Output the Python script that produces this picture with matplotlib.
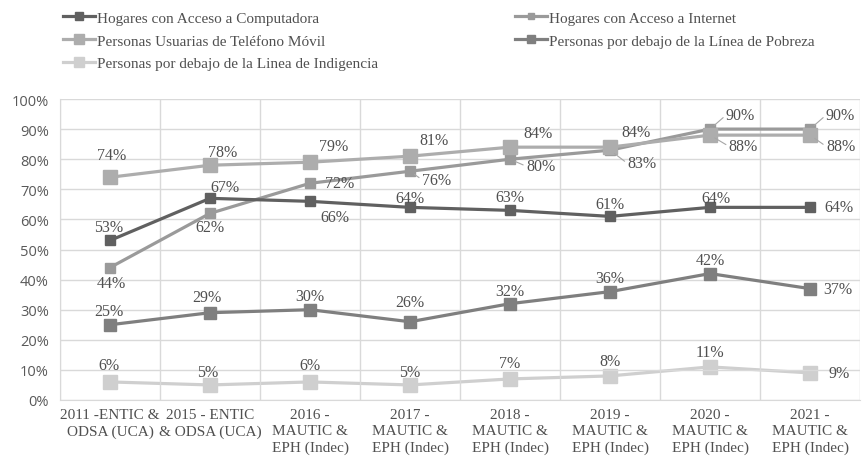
import matplotlib.pyplot as plt
import numpy as np

# categories (x axis)
categories = ["2011 -ENTIC &\nODSA (UCA)", "2015 - ENTIC\n& ODSA (UCA)",
              "2016 -\nMAUTIC &\nEPH (Indec)", "2017 -\nMAUTIC &\nEPH (Indec)",
              "2018 -\nMAUTIC &\nEPH (Indec)", "2019 -\nMAUTIC &\nEPH (Indec)",
              "2020 -\nMAUTIC &\nEPH (Indec)", "2021 -\nMAUTIC &\nEPH (Indec)"]

computadora = [53, 67, 66, 64, 63, 61, 64, 64]
internet = [44, 62, 72, 76, 80, 83, 90, 90]
movil = [74, 78, 79, 81, 84, 84, 88, 88]
pobreza = [25, 29, 30, 26, 32, 36, 42, 37]
indigencia = [6, 5, 6, 5, 7, 8, 11, 9]

names = ["Hogares con Acceso a Computadora", "Hogares con Acceso a Internet",
         "Personas Usuarias de Teléfono Móvil", "Personas por debajo de la Línea de Pobreza",
         "Personas por debajo de la Linea de Indigencia"]
colors = ["#606060", "#9a9a9a", "#adadad", "#7f7f7f", "#cfcfcf"]
msizes = [7.5, 6.5, 10, 9, 10.5]
zorder = [5, 3, 4, 2, 1]

# label offsets in points (dx, dy)
off_comp = [(-1, 10), (11, 8), (18, -11), (0, 7), (0, 9.5), (0, 9), (4, 7), (21, 0)]
off_int = [(1, -11), (0, -9.5), (21, 0), (19, -6), (22, -5), (23, -9.5), (22, 10), (22, 10)]
off_mov = [(1, 16), (9, 9.5), (17, 12), (17, 12), (20, 10), (19, 11), (24, -8), (22, -8)]
off_pob = [(-1, 10), (-2, 11), (0, 10), (0, 14.5), (0, 9), (0, 9.5), (0, 9.5), (20, 0)]
off_ind = [(-1, 12.5), (-2, 9.5), (0, 12.5), (0, 9.5), (0, 11.5), (0, 11), (0, 11), (21, 0)]
# labels joined to their point by a small leader line (series, index)
leaders = {(1, 3), (1, 4), (1, 5), (1, 6), (1, 7), (2, 6), (2, 7)}

series = [computadora, internet, movil, pobreza, indigencia]
offsets = [off_comp, off_int, off_mov, off_pob, off_ind]

serif = "Liberation Serif"
txt_color = "#505050"
fs = 11

fig = plt.figure(figsize=(8.64, 4.64), dpi=100)
ax = fig.add_axes([60 / 864, 63 / 464, 800 / 864, 301 / 464])

x = np.arange(len(categories))
handles = []
for vals, col, name, ms, z in zip(series, colors, names, msizes, zorder):
    h, = ax.plot(x, vals, color=col, lw=2.3, marker="s", markersize=ms,
                 label=name, zorder=z)
    handles.append(h)

for k, (vals, offs) in enumerate(zip(series, offsets)):
    for i, (v, (dx, dy)) in enumerate(zip(vals, offs)):
        arrow = None
        if (k, i) in leaders:
            arrow = dict(arrowstyle="-", color="#a6a6a6", lw=0.8, shrinkA=0,
                         shrinkB=4, relpos=(0, 0.5))
        ax.annotate(f"{v}%", (i, v), xytext=(dx, dy), textcoords="offset points",
                    ha="center", va="center", fontsize=11.5, family=serif,
                    color=txt_color, zorder=10, arrowprops=arrow)

ax.set_xlim(-0.5, len(categories) - 0.5)
ax.set_ylim(0, 100)
ax.set_yticks(np.arange(0, 101, 10))
ax.set_yticklabels([f"{t}%" for t in range(0, 101, 10)], family="Open Sans",
                   fontsize=10.5, color="#595959")
ax.set_xticks(x)
ax.set_xticklabels(categories, family=serif, fontsize=fs, color=txt_color,
                   linespacing=1.3)
ax.set_xticks(np.arange(-0.5, len(categories), 1), minor=True)
ax.grid(True, axis="y", color="#d9d9d9", lw=1)
ax.grid(True, axis="x", which="minor", color="#d9d9d9", lw=1)
ax.tick_params(which="both", length=0)
ax.tick_params(axis="x", pad=6)
ax.tick_params(axis="y", pad=8)
for s in ["top", "right"]:
    ax.spines[s].set_visible(False)
for s in ["left", "bottom"]:
    ax.spines[s].set_color("#d9d9d9")

leg_kw = dict(frameon=False, prop={"family": serif, "size": fs}, handlelength=2.1,
              handletextpad=0.1, labelspacing=0.6, labelcolor=txt_color,
              borderaxespad=0, borderpad=0, markerscale=0.7)
fig.legend([handles[0], handles[2], handles[4]], [names[0], names[2], names[4]],
           loc="upper left", bbox_to_anchor=(63 / 864, 1 - 12 / 464), **leg_kw)
fig.legend([handles[1], handles[3]], [names[1], names[3]],
           loc="upper left", bbox_to_anchor=(515 / 864, 1 - 12 / 464), **leg_kw)

fig.savefig("out.png", dpi=100)
